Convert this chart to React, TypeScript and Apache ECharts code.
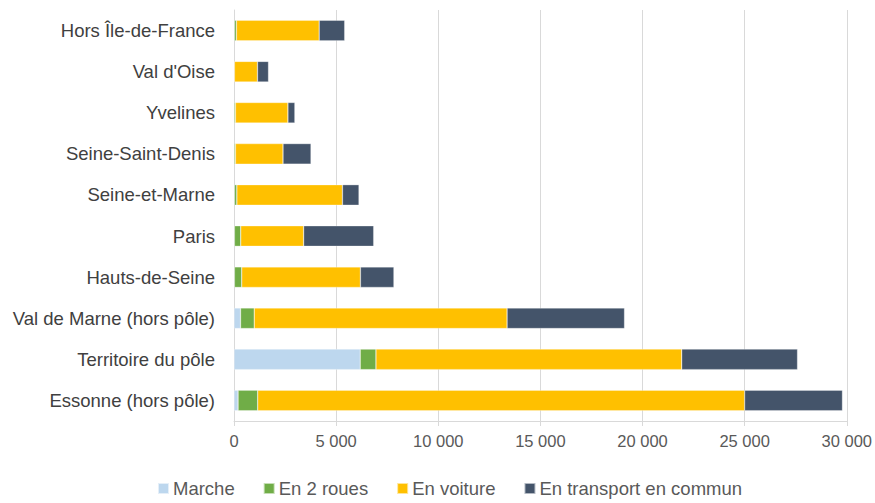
import React, { useEffect, useRef } from "react";
import * as echarts from "echarts";

const categories = [
  "Essonne (hors pôle)",
  "Territoire du pôle",
  "Val de Marne (hors pôle)",
  "Hauts-de-Seine",
  "Paris",
  "Seine-et-Marne",
  "Seine-Saint-Denis",
  "Yvelines",
  "Val d'Oise",
  "Hors Île-de-France",
];
const marche = [200, 6180, 320, 20, 20, 20, 10, 10, 0, 20];
const deuxRoues = [960, 770, 670, 360, 310, 120, 60, 60, 20, 100];
const voiture = [23840, 14970, 12380, 5810, 3080, 5170, 2330, 2570, 1130, 4050];
const transport = [4790, 5670, 5750, 1640, 3430, 810, 1370, 340, 540, 1250];

const seriesNames = ["Marche", "En 2 roues", "En voiture", "En transport en commun"];
const colors = ["#BDD7EE", "#70AD47", "#FFC000", "#44546A"];

const FONT = "'Liberation Sans', Arial, sans-serif";

export default function App() {
  const ref = useRef<HTMLDivElement>(null);
  useEffect(() => {
    if (!ref.current) return;
    const chart = echarts.init(ref.current, null, { renderer: "svg" });
    const data = [marche, deuxRoues, voiture, transport];
    chart.setOption({
      animation: false,
      textStyle: { fontFamily: FONT },
      grid: { left: 234, right: 27, top: 10, bottom: 82, containLabel: false },
      legend: {
        bottom: 0,
        left: 152,
        itemWidth: 11,
        itemHeight: 11,
        itemGap: 28,
        icon: "rect",
        textStyle: { fontFamily: FONT, fontSize: 18.5, color: "#595959", padding: [0, 0, 0, -1] },
        data: seriesNames,
      },
      xAxis: {
        type: "value",
        min: 0,
        max: 30000,
        interval: 5000,
        axisLine: { show: true, lineStyle: { color: "#D9D9D9" } },
        axisTick: { show: true, length: 5, lineStyle: { color: "#D9D9D9" } },
        splitLine: { show: true, lineStyle: { color: "#D9D9D9", width: 1 } },
        axisLabel: {
          fontFamily: FONT,
          fontSize: 16.5,
          color: "#595959",
          margin: 11,
          formatter: (v: number) => (v >= 1000 ? Math.floor(v / 1000) + " 000" : String(v)),
        },
      },
      yAxis: {
        type: "category",
        data: categories,
        axisLine: { show: true, lineStyle: { color: "#D9D9D9" } },
        axisTick: { show: false },
        axisLabel: { fontFamily: FONT, fontSize: 18.5, color: "#404040", margin: 19 },
      },
      series: seriesNames.map((name, i) => ({
        name,
        type: "bar",
        stack: "total",
        barWidth: "50%",
        data: data[i],
        itemStyle: { color: colors[i], borderColor: "rgba(255,255,255,0.6)", borderWidth: 0.5 },
      })),
    });
    return () => chart.dispose();
  }, []);
  return (
    <div
      ref={ref}
      style={{ position: "fixed", left: 0, top: 0, width: 875, height: 503, background: "#fff" }}
    />
  );
}
